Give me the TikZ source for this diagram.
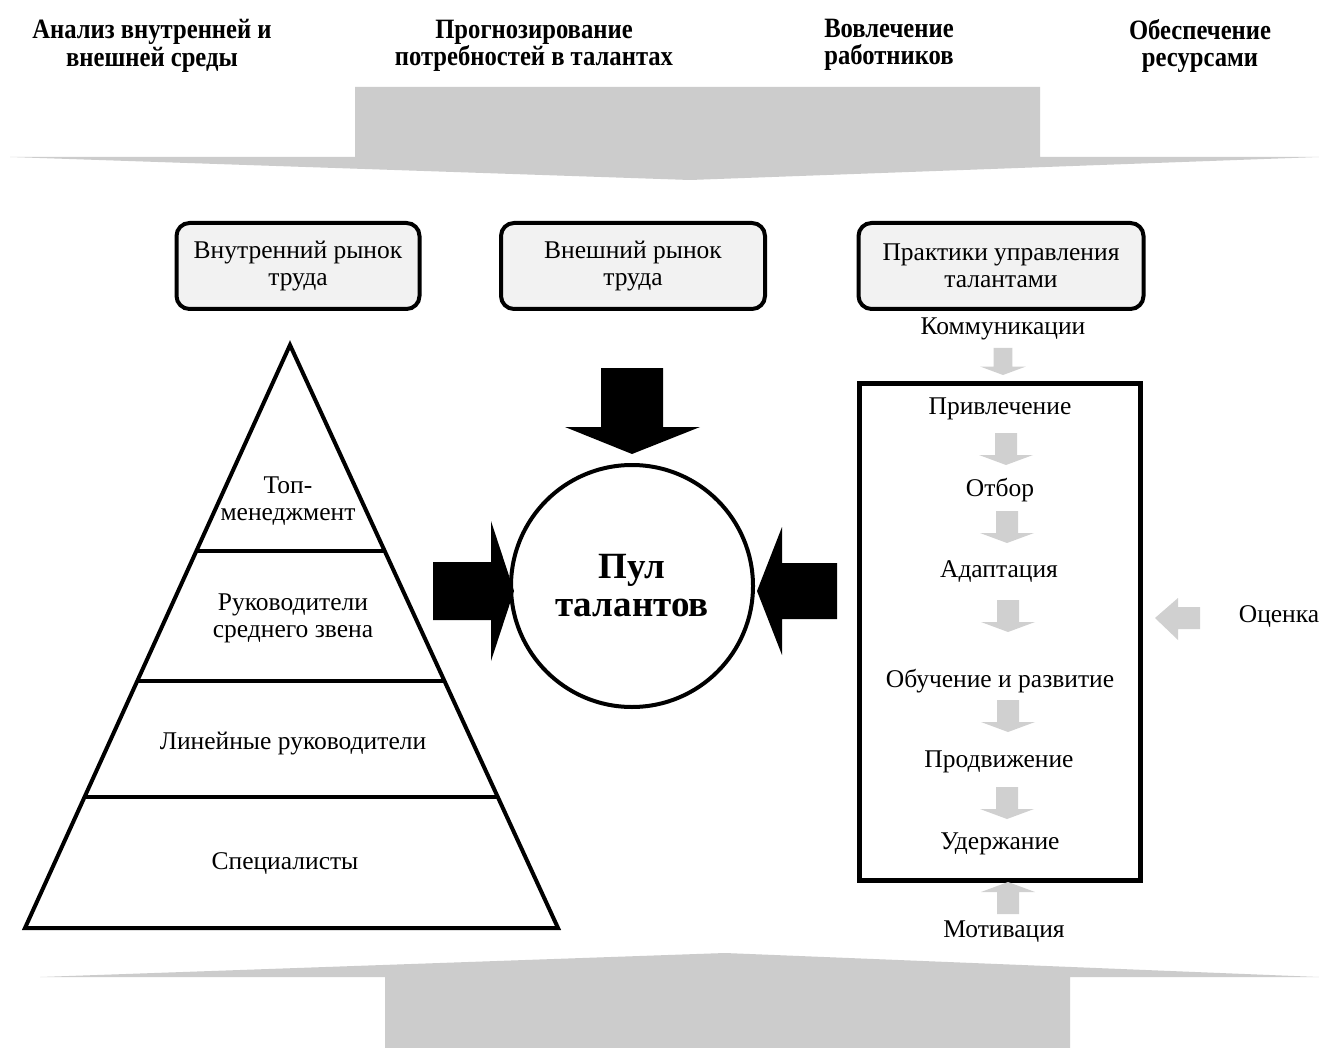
\documentclass[tikz,border=0pt]{standalone}
\usepackage{fontspec}
\setmainfont{Liberation Serif}
\newfontfamily\hdrfont[FakeStretch=0.88]{Liberation Serif}
\usetikzlibrary{calc}
\definecolor{biggray}{RGB}{204,204,204}
\definecolor{arrgray}{RGB}{208,208,208}
\definecolor{boxfill}{RGB}{242,242,242}
\begin{document}
\begin{tikzpicture}[x=1pt,y=-1pt,
  txt/.style={font=\fontsize{25.5}{27}\selectfont, align=center, inner sep=0pt, yshift=-2pt},
  hdr/.style={font=\hdrfont\bfseries\fontsize{28}{27.5}\selectfont, align=center, inner sep=0pt, yshift=-3pt},
  rbox/.style={draw, line width=4pt, rounded corners=13pt, fill=boxfill, minimum height=86pt,
    align=center, inner sep=0pt, font=\fontsize{25.5}{27}\selectfont},
  garrow/.pic={\fill[arrgray] (-11,-32) -- (11,-32) -- (11,-10) -- (27,-10) -- (0,0) -- (-27,-10) -- (-11,-10) -- cycle;},
  layer/.style={line width=4pt}
]
\useasboundingbox[fill=white] (0,0) rectangle (1319,1048);

% header labels
\node[hdr] (h1) at (152,43) {Анализ внутренней и\\внешней среды};
\node[hdr] (h2) at (534,43) {Прогнозирование\\потребностей в талантах};
\node[hdr] (h3) at (889,42) {Вовлечение\\работников};
\node[hdr] (h4) at (1200,43) {Обеспечение\\ресурсами};

% big gray arrows
\fill[biggray] (355,87) -- (1040,87) -- (1040,157) -- (1319,157) -- (690,180) -- (10,157) -- (355,157) -- cycle;
\fill[biggray] (385,1048) -- (385,977) -- (40,977) -- (725,953) -- (1319,977) -- (1070,977) -- (1070,1048) -- cycle;

% top boxes
\node[rbox, minimum width=243pt] (inner) at (298,266) {Внутренний рынок\\труда};
\node[rbox, minimum width=264pt] (outer) at (633,266) {Внешний рынок\\труда};
\node[rbox, minimum width=285pt] (practice) at (1001,266) {Практики управления\\талантами};

% pyramid
\coordinate (apex) at (290,345);
\coordinate (bl) at (25,928);
\coordinate (br) at (558,928);
\draw[layer, line join=miter] (apex) -- (br) -- (bl) -- cycle;
\draw[layer] ($(apex)!0.3533!(bl)$) -- ($(apex)!0.3533!(br)$);
\draw[layer] ($(apex)!0.5763!(bl)$) -- ($(apex)!0.5763!(br)$);
\draw[layer] ($(apex)!0.7753!(bl)$) -- ($(apex)!0.7753!(br)$);
\node[txt] (top) at (288,499) {Топ-\\менеджмент};
\node[txt] (mid) at (293,616) {Руководители\\среднего звена};
\node[txt] (line) at (293,742) {Линейные руководители};
\node[txt] (spec) at (285,862) {Специалисты};

% pool
\node[draw, circle, line width=4pt, minimum size=242pt, inner sep=0pt,
  font=\bfseries\fontsize{37}{38}\selectfont, align=center] (pool) at (632,586) {Пул\\талантов};

% black arrows
\fill (601,368) -- (663,368) -- (663,427) -- (700,427) -- (632,454) -- (565,427) -- (601,427) -- cycle;
\fill (433,562) -- (491,562) -- (491,521) -- (514,591) -- (491,661) -- (491,620) -- (433,620) -- cycle;
\fill (837,563) -- (782,563) -- (782,527) -- (757,591) -- (782,655) -- (782,619) -- (837,619) -- cycle;

% process column
\node[draw, line width=5pt, minimum width=281pt, minimum height=497pt, inner sep=0pt] (proc) at (1000,632) {};
\node[txt] (comm) at (1003,327) {Коммуникации};
\node[txt] (attr) at (1000,407) {Привлечение};
\node[txt] (sel) at (1000,488) {Отбор};
\node[txt] (adapt) at (999,570) {Адаптация};
\node[txt] (learn) at (1000,679) {Обучение и развитие};
\node[txt] (promo) at (999,760) {Продвижение};
\node[txt] (ret) at (1000,842) {Удержание};
\node[txt] (motiv) at (1004,930) {Мотивация};
\node[txt] (eval) at (1279,615) {Оценка};

\pic[scale=0.85] at (1003,375) {garrow};
\pic at (1006,465) {garrow};
\pic at (1007,543) {garrow};
\pic at (1008,632) {garrow};
\pic at (1008,732) {garrow};
\pic at (1007,819) {garrow};
\pic[rotate=180] at (1008,882) {garrow};
\fill[arrgray] (1200,607) -- (1178,607) -- (1178,598) -- (1155,618) -- (1178,640) -- (1178,629) -- (1200,629) -- cycle;
\end{tikzpicture}
\end{document}
